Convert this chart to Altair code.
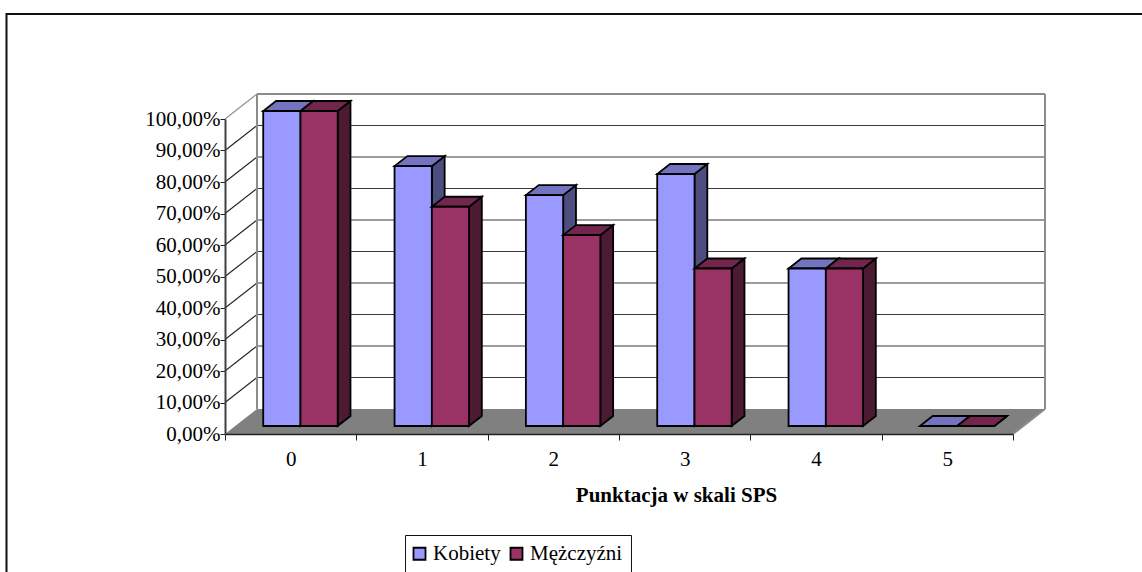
import altair as alt
import pandas as pd

# Survey results by SPS score
CATEGORIES = [0, 1, 2, 3, 4, 5]
SERIES = ["Kobiety", "Mężczyźni"]
KOBIETY = [100.0, 82.5, 73.3, 80.0, 50.0, 0.0]
MEZCZYZNI = [100.0, 69.6, 60.6, 50.0, 50.0, 0.0]
GRID_VALUES = [10, 20, 30, 40, 50, 60, 70, 80, 90, 100]

# Series palette: front, top and side faces of each column
FRONT = ["#9999FF", "#993366"]
TOP = ["#7373BF", "#73264D"]
SIDE = ["#4D4D80", "#4D1A33"]
FLOOR = "#808080"
WALL_EDGE = "#8C8C8C"
FONT = "Liberation Serif"

# Plot geometry in pixels and the oblique projection of the depth axis
PLOT_W, PLOT_H = 788, 315
LEFT, TOP_PAD = 225, 119
WIN_W, WIN_H = 1142, 572
DEPTH_PX_X, DEPTH_PX_Y = 32, 25
BAR_DEPTH = (0.32, 0.72)
BAR_SPAN = (0.213, 0.497, 0.78)

n = len(CATEGORIES)


def px(category, depth):
    return category + depth * DEPTH_PX_X * n / PLOT_W


def py(value, depth):
    return value + depth * DEPTH_PX_Y * 100 / PLOT_H


x_scale = alt.Scale(domain=[0, n], nice=False, zero=False)
y_scale = alt.Scale(domain=[0, 100], nice=False, zero=False)

x_axis = alt.Axis(
    values=list(range(n + 1)), grid=False, zindex=1,
    labelExpr=f"datum.value < {n} ? format(datum.value, 'd') : ''",
    labelOffset=PLOT_W / n / 2, labelOverlap=False, labelPadding=8, labelFlush=False,
    labelFont=FONT, labelFontSize=21, labelColor="black",
    domainColor="#222222", domainWidth=1.5, tickColor="#222222", tickSize=6,
    title="Punktacja w skali SPS", titleFont=FONT, titleFontSize=21,
    titleFontWeight="bold", titleColor="black", titleX=451, titleY=50,
    titleAlign="center",
)
y_axis = alt.Axis(
    values=[0] + GRID_VALUES, grid=False, zindex=1, title=None,
    labelExpr="replace(format(datum.value, '.2f'), '.', ',') + '%'",
    labelFont=FONT, labelFontSize=21, labelColor="black", labelOverlap=False,
    labelPadding=0, labelBaseline="middle",
    domainColor="#404040", domainWidth=2, tickColor="#222222", tickSize=5,
)


def X(field):
    return alt.X(f"{field}:Q", scale=x_scale, axis=x_axis)


def Y(field):
    return alt.Y(f"{field}:Q", scale=y_scale, axis=y_axis)


# Chart frame, running past the window on the right and bottom
frame = alt.Chart(pd.DataFrame({"a": [0]})).mark_rect(
    fill="transparent", stroke="#111111", strokeWidth=2
).encode(
    x=alt.value(6.5 - LEFT), x2=alt.value(WIN_W + 60),
    y=alt.value(14 - TOP_PAD), y2=alt.value(WIN_H + 60),
)

# Floor of the box
floor_df = pd.DataFrame({
    "y": [py(0, 0), py(0, 1)],
    "x": [px(0, 0), px(0, 1)],
    "x2": [px(n, 0), px(n, 1)],
})
floor = alt.Chart(floor_df).mark_area(orient="horizontal", color=FLOOR).encode(
    y=Y("y"), x=X("x"), x2="x2"
)

# Gridlines on the back wall and on the left wall
back_df = pd.DataFrame({
    "x": [px(0, 1)] * len(GRID_VALUES), "x2": [px(n, 1)] * len(GRID_VALUES),
    "y": [py(v, 1) for v in GRID_VALUES],
})
back_grid = alt.Chart(back_df).mark_rule(color="#3A3A3A", strokeWidth=1.2).encode(
    x=X("x"), x2="x2", y=Y("y")
)
side_df = pd.DataFrame({
    "x": [px(0, 0)] * len(GRID_VALUES), "x2": [px(0, 1)] * len(GRID_VALUES),
    "y": [py(v, 0) for v in GRID_VALUES], "y2": [py(v, 1) for v in GRID_VALUES],
    "color": ["#222222"] * 9 + [WALL_EDGE],
})
side_grid = alt.Chart(side_df).mark_rule(strokeWidth=1.1).encode(
    x=X("x"), x2="x2", y=Y("y"), y2="y2", color=alt.Color("color:N", scale=None)
)

# Grey outline of the walls
edges_df = pd.DataFrame({
    "x": [px(0, 1), px(n, 1), px(0, 1), px(n, 0)],
    "x2": [px(0, 1), px(n, 1), px(n, 1), px(n, 1)],
    "y": [py(0, 1), py(0, 1), py(100, 1), py(0, 0)],
    "y2": [py(100, 1), py(100, 1), py(100, 1), py(0, 1)],
})
edges = alt.Chart(edges_df).mark_rule(color=WALL_EDGE, strokeWidth=2).encode(
    x=X("x"), x2="x2", y=Y("y"), y2="y2"
)

near, far = BAR_DEPTH


def column_layers(index, series, values):
    span = (BAR_SPAN[index], BAR_SPAN[index + 1])
    stroke = dict(stroke="black", strokeWidth=1.8, strokeJoin="miter")

    top_rows, side_rows, front_rows = [], [], []
    for cat, v in zip(CATEGORIES, values):
        for d in (near, far):
            top_rows.append({"cat": cat, "y": py(v, d),
                             "x": px(cat + span[0], d), "x2": px(cat + span[1], d)})
            side_rows.append({"cat": cat, "x": px(cat + span[1], d),
                              "y": py(0, d), "y2": py(v, d)})
        front_rows.append({"cat": cat, "x": px(cat + span[0], near),
                           "x2": px(cat + span[1], near),
                           "y": py(0, near), "y2": py(v, near), "series": series})

    side = alt.Chart(pd.DataFrame(side_rows)).mark_area(
        orient="vertical", color=SIDE[index], **stroke
    ).encode(x=X("x"), y=Y("y"), y2="y2", detail="cat:N")

    top = alt.Chart(pd.DataFrame(top_rows)).mark_area(
        orient="horizontal", color=TOP[index], **stroke
    ).encode(y=Y("y"), x=X("x"), x2="x2", detail="cat:N")

    front = alt.Chart(pd.DataFrame(front_rows)).mark_rect(**stroke).encode(
        x=X("x"), x2="x2", y=Y("y"), y2="y2",
        color=alt.Color(
            "series:N",
            scale=alt.Scale(domain=SERIES, range=FRONT),
            legend=alt.Legend(
                title=None, orient="none", legendX=405 - LEFT, legendY=535 - TOP_PAD,
                direction="horizontal", columns=2, columnPadding=5,
                fillColor="white", strokeColor="#111111", padding=8,
                labelFont=FONT, labelFontSize=21, labelColor="black", labelLimit=200,
                labelOffset=3, symbolOffset=-4, symbolType="square", symbolSize=144,
                symbolStrokeColor="black", symbolStrokeWidth=1.8,
            ),
        ),
    )
    return [side, top, front]


chart = alt.layer(
    frame, floor, back_grid, side_grid, edges,
    *column_layers(0, SERIES[0], KOBIETY),
    *column_layers(1, SERIES[1], MEZCZYZNI),
).properties(
    width=PLOT_W,
    height=PLOT_H,
    background="white",
    autosize=alt.AutoSizeParams(type="none"),
    padding={"left": LEFT, "top": TOP_PAD,
             "right": WIN_W - LEFT - PLOT_W, "bottom": WIN_H - TOP_PAD - PLOT_H},
).configure_view(stroke=None)

chart.save("out.html", embed_options={"renderer": "svg", "actions": False})
